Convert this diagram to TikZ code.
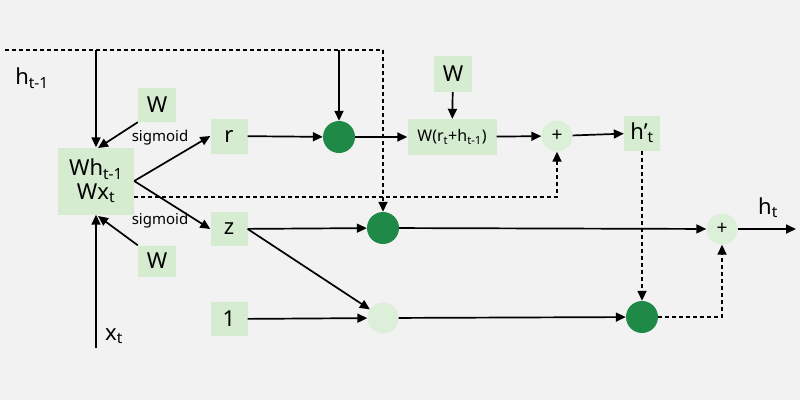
\documentclass[tikz,border=0pt]{standalone}
\usepackage{fontspec}
\setmainfont{Noto Sans}
\usetikzlibrary{arrows.meta}
\begin{document}
\begin{tikzpicture}[x=1pt,y=-1pt,
  box/.style={fill=boxg,inner sep=0pt,font=\fontsize{22}{24}\selectfont},
  dk/.style={circle,fill=dkg,minimum size=32pt,inner sep=0pt},
  lt/.style={circle,fill=ltg,minimum size=31pt,inner sep=0pt,font=\fontsize{19}{21}\selectfont},
  ar/.style={-{Triangle[length=10pt,width=9pt]},line width=1.7pt},
  da/.style={ar,dash pattern=on 4pt off 3pt},
  dl/.style={line width=1.7pt,dash pattern=on 4pt off 3pt},
  lbl/.style={font=\fontsize{22}{24}\selectfont}]
\definecolor{boxg}{HTML}{D5ECD0}\definecolor{dkg}{HTML}{1F8A47}\definecolor{ltg}{HTML}{DCEFD8}\definecolor{bg}{HTML}{F2F2F2}
\fill[bg] (0,0) rectangle (800,400);
\useasboundingbox (0,0) rectangle (800,400);
\node[box,minimum width=76pt,minimum height=67pt,align=center] (wh) at (96,181) {Wh\textsubscript{t-1}\\[0pt]Wx\textsubscript{t}};
\node[box,minimum width=38pt,minimum height=34pt] (w1) at (157,105) {W};
\node[box,minimum width=38pt,minimum height=31pt] (w2) at (157,261) {W};
\node[box,minimum width=37pt,minimum height=35pt] (r) at (229,136) {r};
\node[box,minimum width=37pt,minimum height=34pt] (z) at (229,229) {z};
\node[box,minimum width=37pt,minimum height=34pt] (one) at (229,319) {1};
\node[dk] (c1) at (339,137) {};
\node[dk] (c2) at (383,228) {};
\node[lt] (c3) at (383,318) {};
\node[dk] (c4) at (642,317) {};
\node[box,minimum width=89pt,minimum height=36pt,font=\fontsize{16}{18}\selectfont] (wr) at (452,137) {W(r\textsubscript{t}+h\textsubscript{t-1})};
\node[box,minimum width=38pt,minimum height=36pt] (w3) at (453,74) {W};
\node[lt] (p1) at (557,136) {+};
\node[lt] (p2) at (722,229) {+};
\node[box,minimum width=36pt,minimum height=35pt] (hp) at (642,133) {h’\textsubscript{t}};
\node[lbl] (hl) at (32,78) {h\textsubscript{t-1}};
\node[lbl] (xl) at (114,336) {x\textsubscript{t}};
\node[lbl] (htl) at (768,208) {h\textsubscript{t}};
\node[font=\fontsize{15}{17}\selectfont] (s1) at (160,138) {sigmoid};
\node[font=\fontsize{15}{17}\selectfont] (s2) at (160,221) {sigmoid};
\coordinate (tl) at (5,50); \coordinate (tr) at (383,50);
\coordinate (ta) at (96,50); \coordinate (tb) at (339,50);
\coordinate (xb) at (96,348); \coordinate (out) at (796,229);
\draw[dl] (tl) -- (tr);
\draw[da] (tr) -- (c2);
\draw[ar] (ta) -- (wh.north);
\draw[ar] (xb) -- (wh.south);
\draw[ar] (tb) -- (c1);
\draw[ar] (w1.south west) -- (98,148);
\draw[ar] (w2.north west) -- (98,216);
\draw[ar] (wh.east) -- (r.west);
\draw[ar] (wh.east) -- (z.west);
\draw[ar] (r) -- (c1);
\draw[ar] (c1) -- (wr);
\draw[ar] (w3) -- (wr);
\draw[ar] (wr) -- (p1);
\draw[ar] (p1) -- (hp);
\draw[da] (wh.east |- 0,197) -| (p1.south);
\draw[ar] (z) -- (c2);
\draw[ar] (c2) -- (p2);
\draw[ar] (p2) -- (out);
\draw[ar] (z.east) -- (c3);
\draw[ar] (one) -- (c3);
\draw[ar] (c3) -- (c4);
\draw[da] (hp) -- (c4);
\draw[da] (c4) -| (p2.south);
\end{tikzpicture}
\end{document}
